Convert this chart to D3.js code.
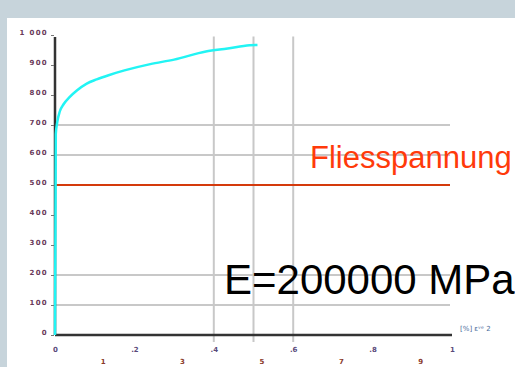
<!DOCTYPE html>
<html>
<head>
<meta charset="utf-8">
<script src="https://cdn.jsdelivr.net/npm/d3@7"></script>
<style>
  html, body { margin: 0; padding: 0; background: #c7d4db; }
  svg { display: block; }
</style>
</head>
<body>
<svg id="chart"></svg>
<script>
// ── Data ─────────────────────────────────────────────
const yTicks      = [0, 100, 200, 300, 400, 500, 600, 700, 800, 900, 1000];
const yTickLabels = ['0', '100', '200', '300', '400', '500', '600', '700', '800', '900', '1 000'];
const xTicks      = [0, 0.2, 0.4, 0.6, 0.8, 1];
const xTickLabels = ['0', '.2', '.4', '.6', '.8', '1'];
const xTicks2      = [0.12, 0.32, 0.52, 0.72, 0.92];
const xTickLabels2 = ['1', '3', '5', '7', '9'];
const hGrid = [100, 200, 600, 700];
const vGrid = [0.4, 0.5, 0.6];
const yieldStress = 500;
// stress-strain curve (strain as axis fraction, stress in MPa)
const strain = [0, 0.002, 0.006, 0.012, 0.022, 0.036, 0.055, 0.08, 0.105, 0.135, 0.175, 0.24, 0.30, 0.38, 0.435, 0.49, 0.51];
const stress = [0, 670, 712, 745, 770, 792, 815, 838, 852, 866, 882, 903, 918, 945, 955, 966, 967];

// ── Setup ────────────────────────────────────────────
const W = 515, H = 367;
const svg = d3.select('#chart').attr('width', W).attr('height', H);

// white card over grey-blue frame
svg.append('rect').attr('x', 0).attr('y', 0).attr('width', W).attr('height', H).attr('fill', '#c7d4db');
svg.append('rect').attr('x', 7).attr('y', 18).attr('width', W - 7).attr('height', H - 18).attr('fill', '#ffffff');

const x = d3.scaleLinear().domain([0, 1]).range([55, 452]);
const y = d3.scaleLinear().domain([0, 1000]).range([335, 35]);

// ── Grid ─────────────────────────────────────────────
svg.append('g').selectAll('line').data(hGrid).join('line')
  .attr('x1', x(0)).attr('x2', 450)
  .attr('y1', d => y(d)).attr('y2', d => y(d))
  .attr('stroke', '#c8c8c8').attr('stroke-width', 2);

svg.append('g').selectAll('line').data(vGrid).join('line')
  .attr('x1', d => x(d)).attr('x2', d => x(d))
  .attr('y1', y(995)).attr('y2', y(0) + 7)
  .attr('stroke', '#c8c8c8').attr('stroke-width', 2);

// yield line
svg.append('line')
  .attr('x1', x(0)).attr('x2', 450)
  .attr('y1', y(yieldStress)).attr('y2', y(yieldStress))
  .attr('stroke', '#d43a0c').attr('stroke-width', 2);

// ── Axes ─────────────────────────────────────────────
svg.append('line')
  .attr('x1', x(0)).attr('x2', x(1))
  .attr('y1', y(0)).attr('y2', y(0))
  .attr('stroke', '#333').attr('stroke-width', 2.5);
svg.append('line')
  .attr('x1', x(0)).attr('x2', x(0))
  .attr('y1', y(0)).attr('y2', y(993))
  .attr('stroke', '#333').attr('stroke-width', 2.5);

const yAxis = d3.axisLeft(y).tickValues(yTicks)
  .tickFormat((d, i) => yTickLabels[i]).tickSize(3).tickPadding(3);
svg.append('g').attr('transform', `translate(${x(0) - 1},0)`).call(yAxis)
  .call(g => g.select('.domain').remove())
  .call(g => g.selectAll('line').attr('stroke', '#777'))
  .call(g => g.selectAll('text')
    .attr('font-family', 'DejaVu Sans, sans-serif').attr('font-size', 7)
    .attr('font-weight', 'bold').attr('letter-spacing', 1.3)
    .attr('fill', '#6a3a5a').attr('dy', '-0.05em'));

const xAxis = d3.axisBottom(x).tickValues(xTicks)
  .tickFormat((d, i) => xTickLabels[i]).tickSize(0).tickPadding(12);
svg.append('g').attr('transform', `translate(0,${y(0)})`).call(xAxis)
  .call(g => g.select('.domain').remove())
  .call(g => g.selectAll('text')
    .attr('font-family', 'DejaVu Sans, sans-serif').attr('font-size', 7)
    .attr('font-weight', 'bold').attr('fill', '#5a4a7a'));

const xAxis2 = d3.axisBottom(x).tickValues(xTicks2)
  .tickFormat((d, i) => xTickLabels2[i]).tickSize(0).tickPadding(24);
svg.append('g').attr('transform', `translate(0,${y(0)})`).call(xAxis2)
  .call(g => g.select('.domain').remove())
  .call(g => g.selectAll('text')
    .attr('font-family', 'DejaVu Sans, sans-serif').attr('font-size', 7)
    .attr('font-weight', 'bold').attr('fill', '#8a3a2a'));

svg.append('text')
  .attr('x', 460).attr('y', 331)
  .attr('font-family', 'DejaVu Sans, sans-serif').attr('font-size', 7)
  .attr('fill', '#4a6a9a')
  .text('[%] ε\u1D5B\u1D49  2');

// ── Curve ────────────────────────────────────────────
const pts = strain.map((s, i) => [s, stress[i]]);
svg.append('path')
  .datum(pts)
  .attr('fill', 'none')
  .attr('stroke', '#22f4f4')
  .attr('stroke-width', 2.5)
  .attr('stroke-linejoin', 'round')
  .attr('d', d3.line().curve(d3.curveMonotoneX).x(d => x(d[0])).y(d => y(d[1])));

// ── Annotations ──────────────────────────────────────
svg.append('text')
  .attr('x', 310).attr('y', 168)
  .attr('font-family', 'Liberation Sans, Arial, sans-serif').attr('font-size', 31)
  .attr('fill', '#ff3a0a')
  .text('Fliesspannung');

svg.append('text')
  .attr('x', 224).attr('y', 294)
  .attr('font-family', 'Liberation Sans, Arial, sans-serif').attr('font-size', 42)
  .attr('fill', '#000')
  .text('E=200000 MPa');
</script>
</body>
</html>
